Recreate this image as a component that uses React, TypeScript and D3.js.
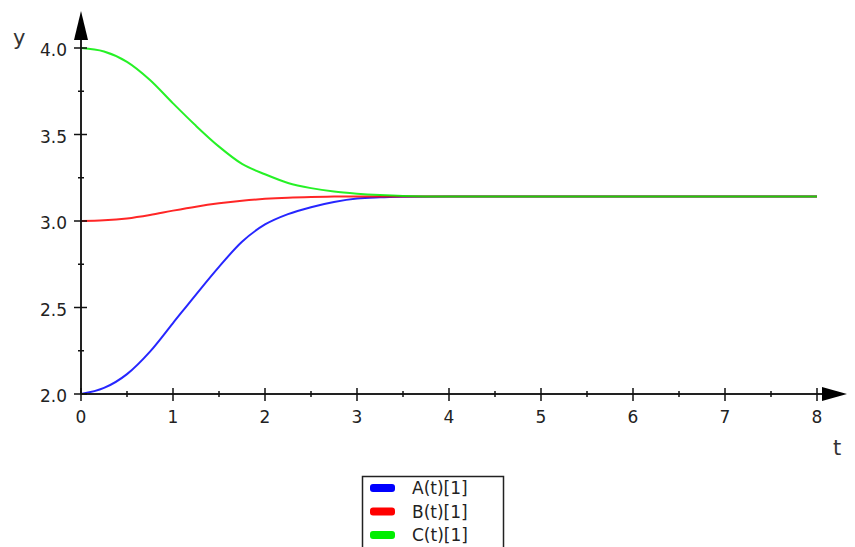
import React from "react";
import * as d3 from "d3";

const tValues = [0, 0.25, 0.5, 0.75, 1, 1.25, 1.5, 1.75, 2, 2.25, 2.5, 2.75, 3, 3.25, 3.5, 4, 5, 6, 7, 8];
const seriesA = [2.0, 2.035, 2.115, 2.245, 2.41, 2.575, 2.735, 2.88, 2.98, 3.04, 3.08, 3.11, 3.13, 3.137, 3.14, 3.142, 3.142, 3.142, 3.142, 3.142];
const seriesB = [3.0, 3.004, 3.015, 3.035, 3.06, 3.083, 3.102, 3.117, 3.128, 3.135, 3.139, 3.141, 3.142, 3.142, 3.142, 3.142, 3.142, 3.142, 3.142, 3.142];
const seriesC = [4.0, 3.98, 3.92, 3.815, 3.68, 3.55, 3.43, 3.33, 3.27, 3.22, 3.19, 3.17, 3.158, 3.15, 3.145, 3.142, 3.142, 3.142, 3.142, 3.142];
const seriesNames = ["A(t)[1]", "B(t)[1]", "C(t)[1]"];
const seriesColors = ["#0000ff", "#ff0000", "#00ee00"];
const xTicks = [0, 1, 2, 3, 4, 5, 6, 7, 8];
const xMinorTicks = [0.5, 1.5, 2.5, 3.5, 4.5, 5.5, 6.5, 7.5];
const yTicks = [2.0, 2.5, 3.0, 3.5, 4.0];
const yMinorTicks = [2.25, 2.75, 3.25, 3.75];

export default function App() {
  const W = 855, H = 547;
  const x = d3.scaleLinear().domain([0, 8]).range([81, 817]);
  const y = d3.scaleLinear().domain([2, 4]).range([394, 48]);
  const font = "'DejaVu Sans', sans-serif";
  const all = [seriesA, seriesB, seriesC];
  const line = d3
    .line<number>()
    .x((_, i) => x(tValues[i]))
    .y((d) => y(d))
    .curve(d3.curveMonotoneX);
  const x0 = x(0);
  const y0 = y(2);
  return (
    <svg width={W} height={H} style={{ position: "absolute", left: 0, top: 0 }} fontFamily={font}>
      <rect width={W} height={H} fill="#fff" />
      {/* curves */}
      {all.map((s, i) => (
        <path key={i} d={line(s) || ""} fill="none" stroke={seriesColors[i]} strokeWidth={2} opacity={0.85} />
      ))}
      {/* axes */}
      <line x1={x0} y1={y0} x2={x0} y2={30} stroke="#222" strokeWidth={2} />
      <line x1={x0} y1={y0} x2={830} y2={y0} stroke="#222" strokeWidth={2} />
      <path d={`M${x0},11 L${x0 + 7},40 L${x0 - 7},40 Z`} fill="#000" />
      <path d={`M847,${y0} L822,${y0 - 7} L822,${y0 + 7} Z`} fill="#000" />
      {xTicks.map((t) => (
        <g key={"xt" + t}>
          <line x1={x(t)} x2={x(t)} y1={y0 - 6} y2={y0 + 7} stroke="#111" strokeWidth={1.5} />
          <text x={x(t)} y={423} textAnchor="middle" fontSize={17} fill="#222">
            {t}
          </text>
        </g>
      ))}
      {xMinorTicks.map((t) => (
        <line key={"xm" + t} x1={x(t)} x2={x(t)} y1={y0 - 3} y2={y0 + 3} stroke="#111" strokeWidth={1.5} />
      ))}
      {yTicks.map((v) => (
        <g key={"yt" + v}>
          <line x1={x0 - 7} x2={x0 + 6} y1={y(v)} y2={y(v)} stroke="#111" strokeWidth={1.5} />
          <text x={67} y={y(v) + 8} textAnchor="end" fontSize={17} fill="#222">
            {v.toFixed(1)}
          </text>
        </g>
      ))}
      {yMinorTicks.map((v) => (
        <line key={"ym" + v} x1={x0 - 3} x2={x0 + 3} y1={y(v)} y2={y(v)} stroke="#111" strokeWidth={1.5} />
      ))}
      <text x={13} y={45} fontSize={21} fill="#333">y</text>
      <text x={833} y={455} fontSize={21} fill="#333">t</text>
      {/* legend */}
      <rect x={362.5} y={476.5} width={141} height={100} fill="#fff" stroke="#222" strokeWidth={1.5} />
      {seriesNames.map((n, i) => (
        <g key={n}>
          <rect x={370} y={484 + i * 23.5} width={25} height={8} rx={3} fill={seriesColors[i]} />
          <text x={412} y={494 + i * 23.5} fontSize={17} fill="#222">
            {n}
          </text>
        </g>
      ))}
    </svg>
  );
}
